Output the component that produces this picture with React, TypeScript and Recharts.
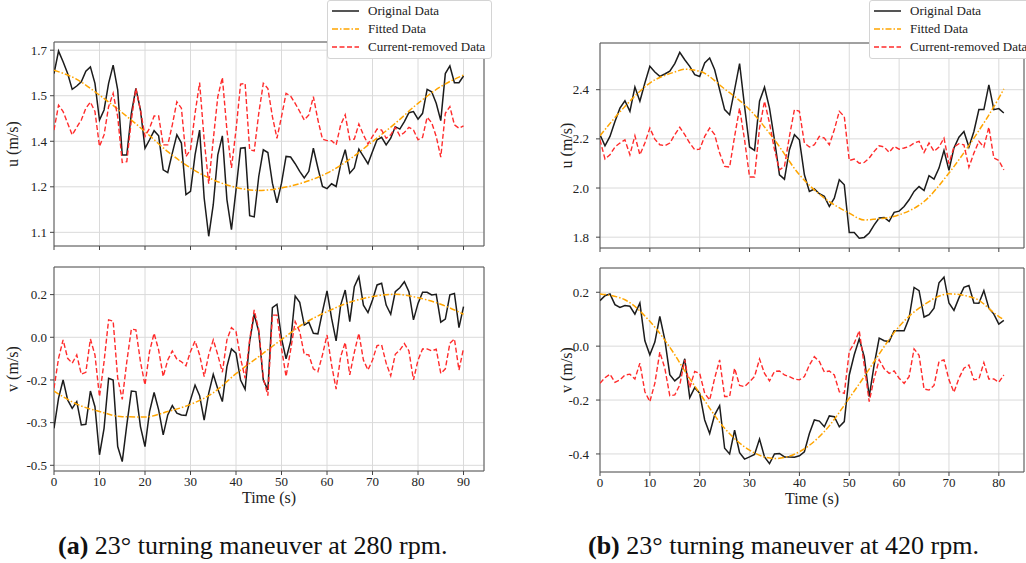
import React from "react";
import {
  LineChart,
  Line,
  XAxis,
  YAxis,
  CartesianGrid,
  ReferenceArea,
  Legend,
} from "recharts";

// time stamps (s)
const timesA = Array.from({ length: 91 }, (_, i) => i);
const timesB = Array.from({ length: 82 }, (_, i) => i);
const fitTimesA = [0, 5, 10, 15, 20, 25, 30, 35, 40, 45, 50, 55, 60, 65, 70, 75, 80, 85, 90];
const fitTimesB = [0, 5, 10, 15, 17, 20, 25, 30, 35, 40, 45, 50, 53, 55, 60, 65, 70, 75, 80, 81];

// (a) 280 rpm, surge velocity u
const aUOriginal = [
  1.573, 1.647, 1.612, 1.573, 1.521, 1.532, 1.546, 1.581, 1.595, 1.541,
  1.42, 1.453, 1.541, 1.601, 1.519, 1.305, 1.305, 1.442, 1.524, 1.453,
  1.327, 1.355, 1.385, 1.368, 1.256, 1.247, 1.311, 1.371, 1.344, 1.174,
  1.185, 1.305, 1.387, 1.163, 1.037, 1.141, 1.305, 1.368, 1.158, 1.059,
  1.19, 1.327, 1.329, 1.105, 1.101, 1.234, 1.322, 1.313, 1.212, 1.147,
  1.212, 1.3, 1.298, 1.276, 1.251, 1.229, 1.251, 1.327, 1.262, 1.201,
  1.194, 1.21, 1.201, 1.273, 1.322, 1.245, 1.262, 1.324, 1.3, 1.276,
  1.316, 1.355, 1.363, 1.338, 1.36, 1.398, 1.39, 1.415, 1.444, 1.448,
  1.423, 1.442, 1.521, 1.513, 1.475, 1.418, 1.573, 1.598, 1.543, 1.543,
  1.565,
];
const aURemoved = [
  1.387, 1.469, 1.448, 1.409, 1.371, 1.396, 1.42, 1.459, 1.479, 1.448,
  1.333, 1.371, 1.464, 1.508, 1.431, 1.28, 1.283, 1.42, 1.524, 1.453,
  1.366, 1.393, 1.433, 1.433, 1.338, 1.338, 1.404, 1.48, 1.459, 1.3,
  1.322, 1.442, 1.543, 1.355, 1.21, 1.355, 1.497, 1.56, 1.387, 1.262,
  1.387, 1.538, 1.541, 1.322, 1.318, 1.442, 1.541, 1.524, 1.431, 1.36,
  1.431, 1.508, 1.499, 1.475, 1.448, 1.42, 1.437, 1.497, 1.42, 1.357,
  1.352, 1.352, 1.338, 1.404, 1.437, 1.355, 1.357, 1.407, 1.371, 1.341,
  1.366, 1.39, 1.387, 1.36, 1.371, 1.396, 1.368, 1.379, 1.396, 1.387,
  1.355, 1.363, 1.429, 1.411, 1.366, 1.298, 1.442, 1.464, 1.404, 1.393,
  1.401,
];
const aUFitted = [
  1.584, 1.554, 1.502, 1.444, 1.382, 1.316, 1.262, 1.223, 1.198, 1.188,
  1.196, 1.215, 1.245, 1.291, 1.349, 1.409, 1.475, 1.53, 1.568,
];

// (a) 280 rpm, sway velocity v
const aVOriginal = [
  -0.32, -0.214, -0.15, -0.22, -0.25, -0.226, -0.308, -0.306, -0.189, -0.244,
  -0.413, -0.32, -0.144, -0.15, -0.384, -0.437, -0.308, -0.189, -0.191, -0.314,
  -0.384, -0.261, -0.194, -0.255, -0.343, -0.273, -0.24, -0.267, -0.273, -0.275,
  -0.22, -0.168, -0.205, -0.291, -0.197, -0.13, -0.182, -0.226, -0.103, -0.041,
  -0.056, -0.15, -0.183, -0.015, 0.081, 0.02, -0.15, -0.185, 0.104, 0.116,
  -0.004, -0.076, -0.015, 0.145, 0.123, 0.043, 0.053, 0.014, 0.012, 0.09,
  0.163, 0.067, -0.013, 0.113, 0.166, 0.055, 0.178, 0.213, 0.113, 0.087,
  0.131, 0.184, 0.19, 0.113, 0.081, 0.16, 0.174, 0.195, 0.16, 0.061,
  0.119, 0.158, 0.158, 0.149, 0.151, 0.053, 0.064, 0.149, 0.154, 0.034,
  0.108,
];
const aVRemoved = [
  -0.179, -0.074, -0.009, -0.074, -0.091, -0.062, -0.13, -0.123, -0.006, -0.062,
  -0.209, -0.086, 0.061, 0.057, -0.144, -0.218, -0.086, 0.029, 0.026, -0.086,
  -0.168, -0.05, 0.014, -0.045, -0.138, -0.08, -0.048, -0.077, -0.086, -0.1,
  -0.05, -0.013, -0.062, -0.138, -0.062, -0.009, -0.062, -0.123, -0.009, 0.034,
  0.02, -0.074, -0.144, -0.009, 0.096, 0.026, -0.144, -0.205, 0.078, 0.078,
  -0.039, -0.138, -0.045, 0.055, 0.02, -0.06, -0.062, -0.111, -0.121, -0.062,
  0.008, -0.097, -0.182, -0.068, -0.018, -0.132, -0.053, 0.014, -0.08, -0.115,
  -0.08, -0.029, -0.027, -0.091, -0.135, -0.06, -0.045, -0.022, -0.048, -0.15,
  -0.08, -0.041, -0.041, -0.048, -0.042, -0.127, -0.111, -0.021, -0.006, -0.115,
  -0.039,
];
const aVFitted = [
  -0.189, -0.235, -0.261, -0.279, -0.28, -0.261, -0.236, -0.195, -0.128, -0.068,
  -0.008, 0.049, 0.09, 0.123, 0.143, 0.151, 0.139, 0.116, 0.081,
];

// (b) 420 rpm, surge velocity u
const bUOriginal = [
  2.217, 2.172, 2.21, 2.271, 2.325, 2.355, 2.312, 2.411, 2.353, 2.427,
  2.495, 2.472, 2.454, 2.464, 2.475, 2.506, 2.552, 2.522, 2.495, 2.461,
  2.454, 2.509, 2.529, 2.481, 2.4, 2.319, 2.298, 2.4, 2.506, 2.332,
  2.167, 2.153, 2.353, 2.41, 2.325, 2.196, 2.054, 2.036, 2.156, 2.217,
  2.196, 2.054, 1.986, 1.996, 1.977, 1.966, 1.925, 1.959, 2.034, 2.013,
  1.819, 1.819, 1.796, 1.799, 1.817, 1.85, 1.878, 1.88, 1.864, 1.901,
  1.906, 1.925, 1.952, 1.986, 2.006, 1.99, 2.05, 2.036, 2.081, 2.153,
  2.072, 2.163, 2.207, 2.23, 2.167, 2.23, 2.319, 2.319, 2.42, 2.319,
  2.323, 2.305,
];
const bURemoved = [
  2.196, 2.118, 2.135, 2.167, 2.183, 2.196, 2.135, 2.213, 2.135, 2.183,
  2.244, 2.199, 2.176, 2.172, 2.183, 2.217, 2.247, 2.217, 2.183, 2.156,
  2.158, 2.21, 2.244, 2.217, 2.142, 2.088, 2.085, 2.21, 2.325, 2.196,
  2.045, 2.045, 2.244, 2.353, 2.264, 2.156, 2.074, 2.088, 2.21, 2.319,
  2.312, 2.183, 2.167, 2.176, 2.21, 2.203, 2.176, 2.237, 2.312, 2.291,
  2.112, 2.118, 2.101, 2.104, 2.122, 2.149, 2.172, 2.167, 2.145, 2.169,
  2.158, 2.163, 2.169, 2.183, 2.19, 2.145, 2.183, 2.149, 2.167, 2.203,
  2.099, 2.167, 2.18, 2.176, 2.085, 2.142, 2.19, 2.167, 2.248, 2.122,
  2.112, 2.074,
];
const bUFitted = [
  2.213, 2.332, 2.427, 2.472, 2.483, 2.475, 2.403, 2.319, 2.196, 2.054,
  1.959, 1.898, 1.87, 1.873, 1.891, 1.945, 2.061, 2.203, 2.366, 2.403,
];

// (b) 420 rpm, sway velocity v
const bVOriginal = [
  0.169, 0.187, 0.194, 0.154, 0.144, 0.151, 0.148, 0.119, 0.16, 0.02,
  -0.032, 0.015, 0.11, 0.024, -0.106, -0.129, -0.113, -0.047, -0.191, -0.154,
  -0.175, -0.274, -0.324, -0.255, -0.221, -0.379, -0.4, -0.312, -0.395, -0.419,
  -0.411, -0.402, -0.345, -0.411, -0.436, -0.4, -0.398, -0.411, -0.411, -0.412,
  -0.407, -0.392, -0.324, -0.274, -0.278, -0.299, -0.259, -0.262, -0.299, -0.28,
  -0.107, -0.032, 0.027, -0.039, -0.187, -0.069, 0.03, 0.02, 0.017, 0.057,
  0.057, 0.057, 0.104, 0.218, 0.206, 0.108, 0.117, 0.141, 0.235, 0.256,
  0.16, 0.133, 0.179, 0.218, 0.225, 0.16, 0.159, 0.206, 0.141, 0.119,
  0.082, 0.096,
];
const bVRemoved = [
  -0.138, -0.117, -0.104, -0.134, -0.125, -0.107, -0.104, -0.122, -0.063, -0.169,
  -0.206, -0.138, -0.022, -0.082, -0.184, -0.181, -0.144, -0.051, -0.154, -0.094,
  -0.101, -0.175, -0.2, -0.119, -0.051, -0.187, -0.187, -0.082, -0.146, -0.15,
  -0.132, -0.113, -0.048, -0.101, -0.129, -0.094, -0.092, -0.107, -0.113, -0.122,
  -0.125, -0.113, -0.07, -0.039, -0.057, -0.096, -0.092, -0.107, -0.169, -0.175,
  -0.02, 0.011, 0.057, -0.07, -0.206, -0.119, -0.051, -0.084, -0.101, -0.092,
  -0.119, -0.138, -0.113, -0.01, -0.034, -0.159, -0.163, -0.146, -0.057, -0.051,
  -0.125, -0.171, -0.119, -0.082, -0.07, -0.125, -0.122, -0.061, -0.122, -0.122,
  -0.134, -0.107,
];
const bVFitted = [
  0.194, 0.172, 0.092, -0.032, -0.092, -0.175, -0.305, -0.386, -0.417, -0.392,
  -0.317, -0.193, -0.113, -0.057, 0.073, 0.154, 0.194, 0.179, 0.11, 0.098,
];

// axis ticks and their printed labels
const xTicksA = [0, 10, 20, 30, 40, 50, 60, 70, 80, 90];
const xTicksB = [0, 10, 20, 30, 40, 50, 60, 70, 80];
const aUTicks = [1.05, 1.2, 1.35, 1.5, 1.65];
const aUTickLabels = ["1.1", "1.2", "1.4", "1.5", "1.7"];
const aVTicks = [-0.45, -0.3, -0.15, 0, 0.15];
const aVTickLabels = ["-0.5", "-0.3", "-0.2", "0.0", "0.2"];
const bUTicks = [1.8, 2.0, 2.2, 2.4];
const bUTickLabels = ["1.8", "2.0", "2.2", "2.4"];
const bVTicks = [-0.4, -0.2, 0, 0.2];
const bVTickLabels = ["-0.4", "-0.2", "0.0", "0.2"];

const FONT = "'Liberation Serif', 'Times New Roman', serif";
const TEXT = "#222";

const series = [
  { name: "Original Data", color: "#1c1c1c", dash: undefined as string | undefined, width: 1.5 },
  { name: "Fitted Data", color: "#ffa500", dash: "6 2 1.5 2", width: 1.5 },
  { name: "Current-removed Data", color: "#ff2b2b", dash: "5 2.5", width: 1.4 },
];

const LegendBox = () => (
  <div
    style={{
      background: "#fff",
      border: "1px solid #d4d4d4",
      borderRadius: 3,
      padding: "1px 6px 2px 4px",
      fontFamily: FONT,
      fontSize: 13,
      color: TEXT,
      whiteSpace: "nowrap",
    }}
  >
    {series.map((s) => (
      <div key={s.name} style={{ display: "flex", alignItems: "center", height: 18 }}>
        <svg width={27} height={8}>
          <line x1={0} y1={4} x2={27} y2={4} stroke={s.color} strokeWidth={s.width} strokeDasharray={s.dash} />
        </svg>
        <span style={{ marginLeft: 9 }}>{s.name}</span>
      </div>
    ))}
  </div>
);

type PanelSpec = {
  left: number;
  top: number;
  width: number;
  height: number;
  margin: { top: number; right: number; bottom: number; left: number };
  yWidth: number;
  yTickMargin: number;
  yTitleX: number;
  xHeight: number;
  xMax: number;
  xTicks: number[];
  showX: boolean;
  yDomain: [number, number];
  yTicks: number[];
  yTickLabels: string[];
  yTitle: string;
  times: number[];
  fitTimes: number[];
  orig: number[];
  removed: number[];
  fit: number[];
  legend?: { left: number; top: number };
};

const Panel = (p: PanelSpec) => {
  const rows = p.times.map((t, i) => ({ t, orig: p.orig[i], removed: p.removed[i] }));
  const fitRows = p.fitTimes.map((t, i) => ({ t, fit: p.fit[i] }));
  const yLabel = (v: number) => {
    const i = p.yTicks.findIndex((k) => Math.abs(k - v) < 1e-9);
    return i >= 0 ? p.yTickLabels[i] : "";
  };
  const tickStyle = { fontSize: 13, fill: TEXT, fontFamily: FONT };
  return (
    <div style={{ position: "absolute", left: p.left, top: p.top }}>
      <LineChart width={p.width} height={p.height} data={rows} margin={p.margin}>
        <CartesianGrid stroke="#dadada" strokeWidth={1} />
        <XAxis
          type="number"
          dataKey="t"
          domain={[0, p.xMax]}
          ticks={p.xTicks}
          allowDataOverflow
          axisLine={false}
          tickLine={{ stroke: "#444" }}
          tickSize={4}
          tickMargin={2}
          height={p.xHeight}
          tick={tickStyle}
          tickFormatter={(v: number) => (p.showX ? String(v) : "")}
          label={
            p.showX
              ? {
                  value: "Time (s)",
                  position: "insideBottom",
                  offset: 8,
                  style: { fontSize: 16, fill: TEXT, fontFamily: FONT },
                }
              : undefined
          }
        />
        <YAxis
          type="number"
          domain={p.yDomain}
          ticks={p.yTicks}
          allowDataOverflow
          axisLine={false}
          tickLine={{ stroke: "#444" }}
          tickSize={4}
          tickMargin={p.yTickMargin}
          width={p.yWidth}
          tick={tickStyle}
          tickFormatter={yLabel}
          label={{
            value: p.yTitle,
            angle: -90,
            position: "insideLeft",
            offset: p.yTitleX,
            style: { textAnchor: "middle", fontSize: 16, fill: TEXT, fontFamily: FONT },
          }}
        />
        <Line
          dataKey="orig"
          name={series[0].name}
          stroke={series[0].color}
          strokeWidth={series[0].width}
          dot={false}
          activeDot={false}
          isAnimationActive={false}
        />
        <Line
          data={fitRows}
          dataKey="fit"
          type="monotone"
          name={series[1].name}
          stroke={series[1].color}
          strokeWidth={series[1].width}
          strokeDasharray={series[1].dash}
          dot={false}
          activeDot={false}
          isAnimationActive={false}
        />
        <Line
          dataKey="removed"
          name={series[2].name}
          stroke={series[2].color}
          strokeWidth={series[2].width}
          strokeDasharray={series[2].dash}
          dot={false}
          activeDot={false}
          isAnimationActive={false}
        />
        <ReferenceArea
          x1={0}
          x2={p.xMax}
          y1={p.yDomain[0]}
          y2={p.yDomain[1]}
          fill="none"
          stroke="#555"
          strokeWidth={1}
          ifOverflow="visible"
        />
        {p.legend && (
          <Legend
            layout="vertical"
            align="center"
            verticalAlign="middle"
            wrapperStyle={{ top: p.legend.top, left: p.legend.left, width: "auto", height: "auto" }}
            content={() => <LegendBox />}
          />
        )}
      </LineChart>
    </div>
  );
};

const captionStyle: React.CSSProperties = {
  position: "absolute",
  top: 531,
  fontFamily: FONT,
  fontSize: 26,
  lineHeight: "30px",
  color: "#111",
  whiteSpace: "nowrap",
};

export default function App() {
  return (
    <div style={{ position: "absolute", left: 0, top: 0, width: 1026, height: 563, background: "#fff" }}>
      <Panel
        left={0}
        top={0}
        width={490}
        height={256}
        margin={{ top: 42, right: 6, bottom: 0, left: 0 }}
        yWidth={54}
        yTickMargin={3}
        yTitleX={12}
        xHeight={10}
        xMax={94.5}
        xTicks={xTicksA}
        showX={false}
        yDomain={[1.005, 1.677]}
        yTicks={aUTicks}
        yTickLabels={aUTickLabels}
        yTitle="u (m/s)"
        times={timesA}
        fitTimes={fitTimesA}
        orig={aUOriginal}
        removed={aURemoved}
        fit={aUFitted}
        legend={{ left: 327, top: 0 }}
      />
      <Panel
        left={0}
        top={262}
        width={490}
        height={249}
        margin={{ top: 5, right: 6, bottom: 0, left: 0 }}
        yWidth={54}
        yTickMargin={3}
        yTitleX={12}
        xHeight={40}
        xMax={94.5}
        xTicks={xTicksA}
        showX={true}
        yDomain={[-0.47, 0.247]}
        yTicks={aVTicks}
        yTickLabels={aVTickLabels}
        yTitle="v (m/s)"
        times={timesA}
        fitTimes={fitTimesA}
        orig={aVOriginal}
        removed={aVRemoved}
        fit={aVFitted}
      />
      <Panel
        left={540}
        top={0}
        width={486}
        height={258}
        margin={{ top: 43, right: 2, bottom: 0, left: 0 }}
        yWidth={60}
        yTickMargin={7}
        yTitleX={26}
        xHeight={10}
        xMax={85.05}
        xTicks={xTicksB}
        showX={false}
        yDomain={[1.756, 2.59]}
        yTicks={bUTicks}
        yTickLabels={bUTickLabels}
        yTitle="u (m/s)"
        times={timesB}
        fitTimes={fitTimesB}
        orig={bUOriginal}
        removed={bURemoved}
        fit={bUFitted}
        legend={{ left: 329, top: 0 }}
      />
      <Panel
        left={540}
        top={263}
        width={486}
        height={249}
        margin={{ top: 5, right: 2, bottom: 0, left: 0 }}
        yWidth={60}
        yTickMargin={7}
        yTitleX={26}
        xHeight={40}
        xMax={85.05}
        xTicks={xTicksB}
        showX={true}
        yDomain={[-0.467, 0.29]}
        yTicks={bVTicks}
        yTickLabels={bVTickLabels}
        yTitle="v (m/s)"
        times={timesB}
        fitTimes={fitTimesB}
        orig={bVOriginal}
        removed={bVRemoved}
        fit={bVFitted}
      />
      <div style={{ ...captionStyle, left: 58 }}>
        <b>(a)</b> 23° turning maneuver at 280 rpm.
      </div>
      <div style={{ ...captionStyle, left: 588 }}>
        <b>(b)</b> 23° turning maneuver at 420 rpm.
      </div>
    </div>
  );
}
